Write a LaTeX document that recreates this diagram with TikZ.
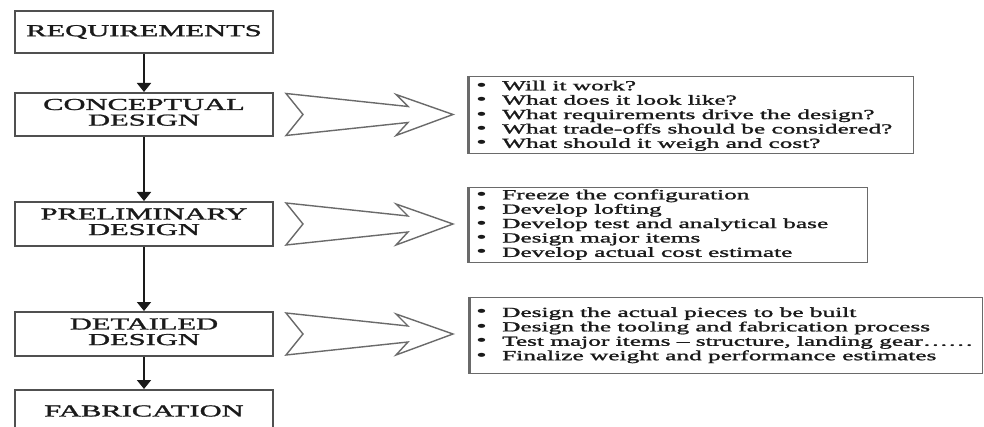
\documentclass[tikz,border=0pt]{standalone}
\usepackage{fontspec}
\setmainfont{Liberation Serif}
\newfontfamily\heavy[FakeBold=1.2]{Liberation Serif}
\newfontfamily\dvs{DejaVu Sans}
\usepackage{graphicx}
\usetikzlibrary{arrows.meta,calc}
\newcommand{\sq}[1]{\scalebox{1}[0.55]{#1}}
\newcommand{\bl}{\makebox[28pt][l]{{\dvs •}}}
\definecolor{boxgray}{HTML}{505050}
\definecolor{rgray}{HTML}{6A6A6A}
\definecolor{ink}{HTML}{1A1A1A}
\newcommand{\harr}[1]{\draw[harrow] ($(#1.east)+(12,-21)$) -- ++(122,13) -- ++(-12,-12) -- ++(57,20) -- ++(-57,21) -- ++(12,-13) -- ++(-122,13) -- ++(17,-21) -- cycle;}
\begin{document}
\begin{tikzpicture}[x=1pt,y=-1pt,
  lbox/.style={draw=boxgray, line width=2pt, minimum width=258pt, inner sep=0pt, text=ink, font=\heavy\fontsize{30.5}{27.3}\selectfont},
  rbox/.style={draw=rgray, line width=1.4pt, inner sep=0pt, anchor=north west},
  btext/.style={inner sep=0pt, anchor=west, text=ink, font=\heavy\fontsize{25.3}{26.2}\selectfont},
  flow/.style={draw=ink, line width=1.8pt, -{Triangle[width=14pt,length=9pt]}},
  harrow/.style={draw=rgray, line width=1.4pt, line join=miter, fill=white},
  thickleft/.style={draw=rgray, line width=3pt}
]
\useasboundingbox (0,0) rectangle (984,427);
\clip (0,0) rectangle (984,427);
\fill[white] (0,0) rectangle (984,427);

% left column
\node[lbox, minimum height=42pt] (req) at (144,32) {\sq{REQUIREMENTS}};
\node[lbox, minimum height=43pt] (con) at (144,114.5) {\sq{\begin{tabular}{@{}c@{}}CONCEPTUAL\\DESIGN\end{tabular}}};
\node[lbox, minimum height=44pt] (pre) at (144,224) {\sq{\begin{tabular}{@{}c@{}}PRELIMINARY\\DESIGN\end{tabular}}};
\node[lbox, minimum height=44pt] (det) at (144,334) {\sq{\begin{tabular}{@{}c@{}}DETAILED\\DESIGN\end{tabular}}};
\node[lbox, minimum height=42pt] (fab) at (144,411) {\sq{FABRICATION}};

\draw[flow] (req.south) -- (con.north);
\draw[flow] (con.south) -- (pre.north);
\draw[flow] (pre.south) -- (det.north);
\draw[flow] (det.south) -- (fab.north);

% hollow arrows
\harr{con}
\harr{pre}
\harr{det}

% right boxes
\node[rbox, minimum width=445pt, minimum height=77pt] (qa) at (468,76) {};
\node[rbox, minimum width=399pt, minimum height=75pt] (qb) at (468,187) {};
\node[rbox, minimum width=513pt, minimum height=76pt] (qc) at (469,297) {};
\draw[thickleft] (qa.north west) -- (qa.south west);
\draw[thickleft] (qb.north west) -- (qb.south west);
\draw[thickleft] (qc.north west) -- (qc.south west);

\node[btext] (ta) at ([xshift=6pt,yshift=-1pt]qa.west) {\sq{\begin{tabular}{@{}l@{}}
\bl Will it work?\\
\bl What does it look like?\\
\bl What requirements drive the design?\\
\bl What trade-offs should be considered?\\
\bl What should it weigh and cost?
\end{tabular}}};
\node[btext] (tb) at ([xshift=6pt]qb.west) {\sq{\begin{tabular}{@{}l@{}}
\bl Freeze the configuration\\
\bl Develop lofting\\
\bl Develop test and analytical base\\
\bl Design major items\\
\bl Develop actual cost estimate
\end{tabular}}};
\node[btext] (tc) at ([xshift=5pt]qc.west) {\sq{\begin{tabular}{@{}l@{}}
\bl Design the actual pieces to be built\\
\bl Design the tooling and fabrication process\\
\bl Test major items – structure, landing gear……\\
\bl Finalize weight and performance estimates
\end{tabular}}};
\end{tikzpicture}
\end{document}
